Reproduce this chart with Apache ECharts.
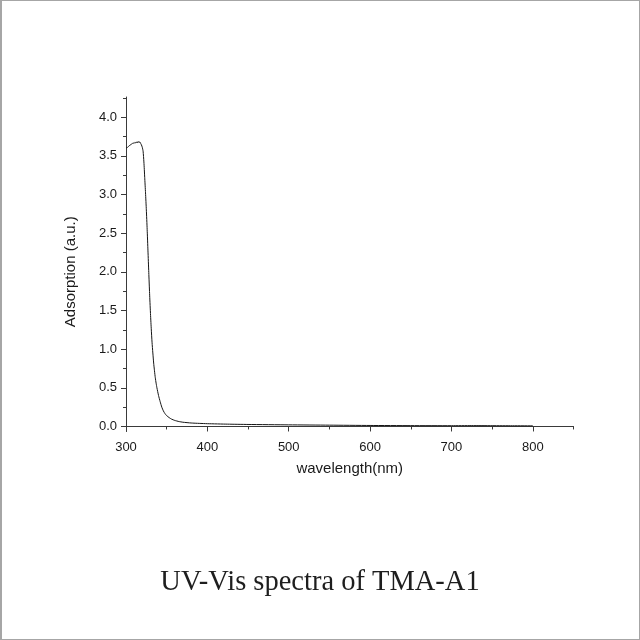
<!DOCTYPE html>
<html>
<head>
<meta charset="utf-8">
<script src="https://cdn.jsdelivr.net/npm/echarts@6/dist/echarts.min.js"></script>
<style>
html,body{margin:0;padding:0;background:#fff;}
#wrap{position:relative;width:640px;height:640px;}
#chart{position:absolute;left:0;top:0;width:640px;height:640px;}
#frame{position:absolute;left:0;top:0;width:640px;height:640px;box-sizing:border-box;border:1px solid #a6a6a6;border-left:2px solid #a6a6a6;pointer-events:none;}
</style>
</head>
<body>
<div id="wrap"><div id="chart"></div><div id="frame"></div></div>
<script>
// wavelength (nm)
const wavelengths = [300,302,304,306,308,309,310,311,312,313,314,315,316,317,318,319,320,321,322,323,324,325,326,327,328,329,330,331,332,333,334,335,336,337,338,340,342,344,346,348,350,353,356,360,365,370,380,390,400,425,450,500,550,600,650,700,725,750,775,800];
// absorption (a.u.)
const absorption = [3.60,3.61,3.63,3.645,3.66,3.665,3.66,3.675,3.665,3.68,3.665,3.685,3.67,3.68,3.66,3.64,3.61,3.56,3.42,3.22,3.02,2.80,2.55,2.27,1.99,1.72,1.48,1.27,1.09,0.95,0.82,0.72,0.63,0.56,0.50,0.40,0.32,0.25,0.20,0.165,0.14,0.115,0.095,0.078,0.064,0.055,0.045,0.040,0.036,0.030,0.026,0.021,0.017,0.013,0.011,0.010,0.011,0.010,0.009,0.008];
const xMajorTicks = [300,400,500,600,700,800];
const xMinorTicks = [350,450,550,650,750,850];
const yMajorTicks = [0.0,0.5,1.0,1.5,2.0,2.5,3.0,3.5,4.0];
const yMinorTicks = [0.25,0.75,1.25,1.75,2.25,2.75,3.25,3.75,4.25];
const titleText = 'UV-Vis spectra of TMA-A1';
const xName = 'wavelength(nm)';
const yName = 'Adsorption (a.u.)';

const seriesData = wavelengths.map((w, i) => [w, absorption[i]]);
const axisColor = '#3a3a3a';
const labelFont = {color: '#1a1a1a', fontSize: 13, fontFamily: 'Liberation Sans, Arial, sans-serif'};

const chart = echarts.init(document.getElementById('chart'), null, {renderer: 'canvas'});
chart.setOption({
  animation: false,
  backgroundColor: 'transparent',
  title: {
    text: titleText,
    left: 'center',
    top: 563,
    textStyle: {fontFamily: 'Liberation Serif, Times New Roman, serif', fontSize: 28.5, fontWeight: 'normal', color: '#1e1e1e'}
  },
  grid: {left: 126, right: 66.5, top: 97, bottom: 208.5, containLabel: false},
  xAxis: [{
    type: 'value', min: 300, max: 850,
    name: xName, nameLocation: 'middle', nameGap: 30,
    nameTextStyle: {fontSize: 15, color: '#1a1a1a', fontFamily: 'Liberation Sans, Arial, sans-serif'},
    axisLine: {show: true, lineStyle: {color: axisColor, width: 1}},
    axisTick: {show: true, inside: false, length: 5, customValues: xMajorTicks, lineStyle: {color: axisColor}},
    axisLabel: {show: true, margin: 9, customValues: xMajorTicks, ...labelFont},
    splitLine: {show: false}
  }, {
    type: 'value', min: 300, max: 850, position: 'bottom',
    axisLine: {show: false},
    axisTick: {show: true, inside: false, length: 3, customValues: xMinorTicks, lineStyle: {color: axisColor}},
    axisLabel: {show: false},
    splitLine: {show: false}
  }],
  yAxis: [{
    type: 'value', min: -0.065, max: 4.26,
    name: yName, nameLocation: 'middle', nameGap: 48, nameRotate: 90,
    nameTextStyle: {fontSize: 15, color: '#1a1a1a', fontFamily: 'Liberation Sans, Arial, sans-serif', padding: [0, 15, 0, 0]},
    axisLine: {show: true, lineStyle: {color: axisColor, width: 1}},
    axisTick: {show: true, inside: false, length: 5, customValues: yMajorTicks, lineStyle: {color: axisColor}},
    axisLabel: {show: true, margin: 9, customValues: yMajorTicks, formatter: v => v.toFixed(1), ...labelFont},
    splitLine: {show: false}
  }, {
    type: 'value', min: -0.065, max: 4.26, position: 'left',
    axisLine: {show: false},
    axisTick: {show: true, inside: false, length: 3, customValues: yMinorTicks, lineStyle: {color: axisColor}},
    axisLabel: {show: false},
    splitLine: {show: false}
  }],
  series: [{
    type: 'line',
    xAxisIndex: 0, yAxisIndex: 0,
    data: seriesData,
    showSymbol: false,
    smooth: 0.2,
    lineStyle: {color: '#151515', width: 1}
  }]
});
</script>
</body>
</html>
